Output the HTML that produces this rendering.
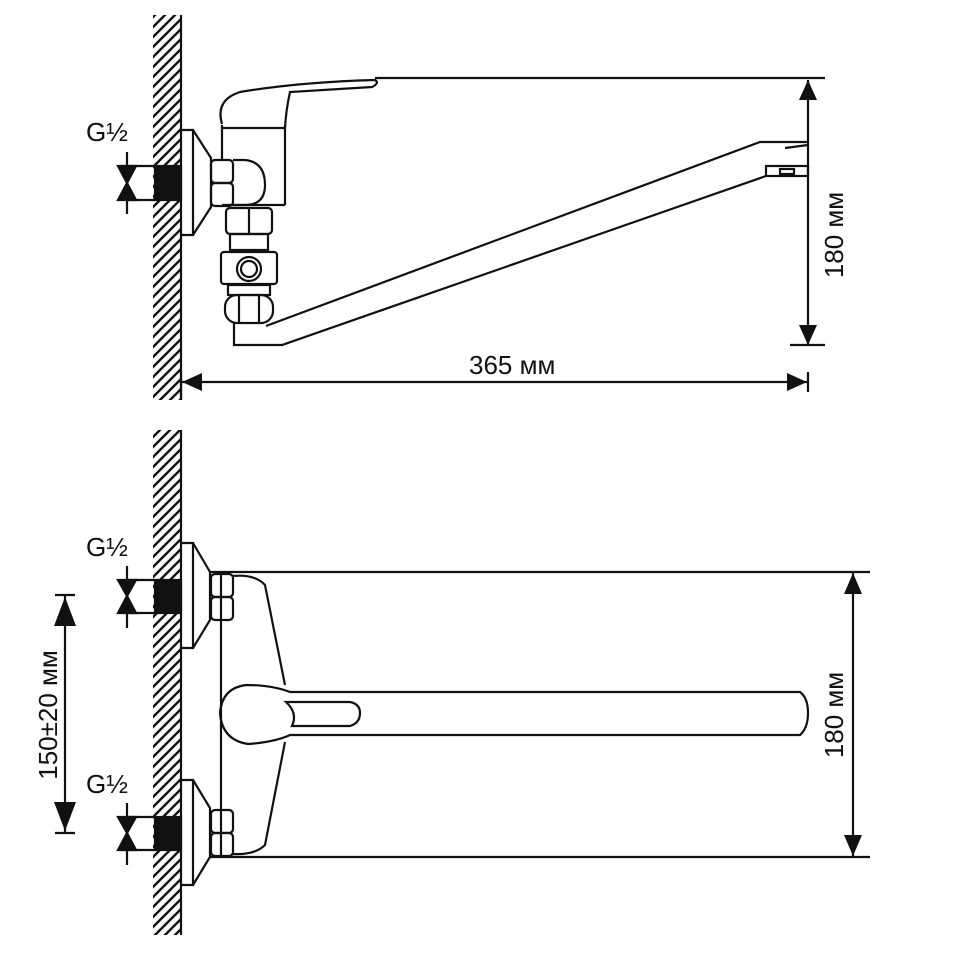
<!DOCTYPE html>
<html><head><meta charset="utf-8"><style>
html,body{margin:0;padding:0;background:#fff;width:958px;height:967px;overflow:hidden}
svg{display:block}
text{font-family:"Liberation Sans",sans-serif;font-size:26px;fill:#111}
</style></head><body>
<svg width="958" height="967" viewBox="0 0 958 967" xmlns="http://www.w3.org/2000/svg">
<defs>
<pattern id="h" width="10" height="10" patternUnits="userSpaceOnUse">
<path d="M-2,12 L12,-2 M-2,2 L2,-2 M8,12 L12,8" stroke="#111" stroke-width="2.4"/>
</pattern>
</defs>
<g stroke="#111" stroke-width="2.2" fill="none">
<!-- TOP VIEW -->
<rect x="153" y="15" width="28" height="385" fill="url(#h)" stroke="none"/>
<line x1="181" y1="15" x2="181" y2="400"/>
<rect x="155" y="166" width="26" height="34" fill="#111"/>
<path d="M155,166 H126 M155,200 H126"/>
<path d="M118,166 H136 L127,183 Z M118,200 H136 L127,183 Z" fill="#111"/>
<path d="M127,152 V214"/>
<path d="M181,130 H193 V235 H181 M193,130 L211,158 V207 L193,235"/>
<rect x="211" y="160" width="22" height="23" rx="4"/><rect x="211" y="183" width="22" height="23" rx="4"/>
<path d="M233,160 H245 Q265,162 265,185 Q265,205 245,205 H233"/>
<path d="M222,125 V160 M285,125 V205 M222,205 H285"/>
<path d="M222,124 Q215,100 240,92 Q300,82 375,80 Q380,83 372,87 L290,92 Q286,110 285,128 L222,128"/>
<rect x="226" y="208" width="46" height="26" rx="4"/><path d="M249,208 V234"/>
<rect x="230" y="234" width="38" height="16"/>
<rect x="221" y="252" width="56" height="32" rx="3"/>
<circle cx="249" cy="269" r="12"/><circle cx="249" cy="269" r="8"/>
<rect x="228" y="285" width="42" height="10"/>
<rect x="225" y="295" width="48" height="28" rx="12"/>
<path d="M239,296 V322 M259,296 V322"/>
<path d="M234,323 V345 H282 L766,176"/>
<path d="M266,326 L760,142 H808"/>
<path d="M785,148 L808,145"/>
<rect x="766" y="166" width="42" height="10"/><rect x="780" y="169" width="14" height="5"/>
<path d="M375,78 H825 M790,345 H825"/>
<path d="M808,80 V345"/>
<path d="M181,382 H808"/>
<path d="M181,372 V400 M808,372 V392"/>
<!-- BOTTOM VIEW -->
<rect x="153" y="430" width="28" height="505" fill="url(#h)" stroke="none"/>
<line x1="181" y1="430" x2="181" y2="935"/>
<rect x="155" y="580" width="26" height="33" fill="#111"/>
<path d="M155,580 H126 M155,613 H126"/>
<path d="M118,580 H136 L127,596 Z M118,613 H136 L127,596 Z" fill="#111"/>
<path d="M127,566 V628"/>
<path d="M181,543 H193 V648 H181 M193,543 L210,572 V620 L193,648"/>
<rect x="211" y="574" width="22" height="23" rx="4"/><rect x="211" y="597" width="22" height="23" rx="4"/>
<rect x="155" y="817" width="26" height="33" fill="#111"/>
<path d="M155,817 H126 M155,850 H126"/>
<path d="M118,817 H136 L127,833 Z M118,850 H136 L127,833 Z" fill="#111"/>
<path d="M127,803 V865"/>
<path d="M181,780 H193 V885 H181 M193,780 L210,808 V857 L193,885"/>
<rect x="211" y="810" width="22" height="23" rx="4"/><rect x="211" y="833" width="22" height="23" rx="4"/>
<path d="M210,572 H870 M210,857 H870"/>
<path d="M221,572 V857"/>
<path d="M233,576 Q255,574 265,585 L285,685 M285,742 L265,845 Q255,855 233,854"/>
<path d="M246,685 Q222,688 220,713 Q222,740 248,744 Q275,742 290,735 H800 Q808,728 808,713 Q808,698 800,692 H290 Q272,685 246,685 Z"/>
<path d="M286,702 H350 Q360,704 360,713 Q360,723 350,726 H292 Q298,713 286,702 Z"/>
<path d="M853,572 V857"/>
<path d="M65,595 V833"/>
<path d="M55,595 H75 M55,833 H75"/>
</g>
<g fill="#111">
<path d="M808,80 L799,100 L817,100 Z"/>
<path d="M808,345 L799,325 L817,325 Z"/>
<path d="M182,382 L202,373 L202,391 Z"/>
<path d="M807,382 L787,373 L787,391 Z"/>
<path d="M853,573 L844,594 L862,594 Z"/>
<path d="M853,856 L844,835 L862,835 Z"/>
<path d="M65,597 L54,626 L76,626 Z"/>
<path d="M65,831 L54,802 L76,802 Z"/>
</g>
<text x="86" y="141">G½</text>
<text x="86" y="556">G½</text>
<text x="86" y="793">G½</text>
<text x="469" y="374">365 мм</text>
<text transform="translate(843,235) rotate(-90)" text-anchor="middle">180 мм</text>
<text transform="translate(843,715) rotate(-90)" text-anchor="middle">180 мм</text>
<text transform="translate(57,715) rotate(-90)" text-anchor="middle">150±20 мм</text>
</svg>
</body></html>
